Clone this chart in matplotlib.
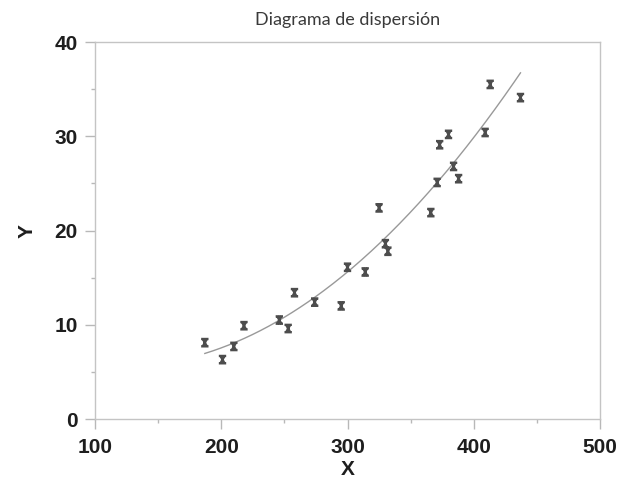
import numpy as np
import matplotlib
matplotlib.use("Agg")
import matplotlib.pyplot as plt
from matplotlib.path import Path
from matplotlib.ticker import MultipleLocator

# scatter data
x_vals = [187, 201, 210, 218, 246, 253, 258, 274, 295, 300, 314, 325,
          330, 332, 366, 371, 373, 380, 384, 388, 409, 413, 437]
y_vals = [8.1, 6.3, 7.7, 9.9, 10.5, 9.6, 13.4, 12.4, 12.0, 16.1, 15.6, 22.4,
          18.6, 17.8, 21.9, 25.1, 29.1, 30.2, 26.8, 25.5, 30.4, 35.5, 34.1]

title = "Diagrama de dispersión"
x_ticks = [100, 200, 300, 400, 500]
y_ticks = [0, 10, 20, 30, 40]

# hourglass-like "x" marker: bars on top and bottom plus diagonals
verts = [(-1, 1), (1, 1), (-0.55, 1), (0.55, -1), (0.55, 1), (-0.55, -1),
         (-1, -1), (1, -1)]
codes = [Path.MOVETO, Path.LINETO, Path.MOVETO, Path.LINETO, Path.MOVETO,
         Path.LINETO, Path.MOVETO, Path.LINETO]
xmark = Path(verts, codes)

fig = plt.figure(figsize=(6.32, 4.83), dpi=100)
ax = fig.add_axes([0.1503, 0.1325, 0.7991, 0.7805])

# quadratic fit through the points
coef = np.polyfit(x_vals, y_vals, 2)
xs = np.linspace(min(x_vals), max(x_vals), 200)
ax.plot(xs, np.polyval(coef, xs), color="#999999", lw=1.0)

ax.scatter(x_vals, y_vals, marker=xmark, s=28, facecolors="none",
           edgecolors="#4d4d4d", linewidths=1.7, zorder=3)

ax.set_xlim(100, 500)
ax.set_ylim(0, 40)
ax.set_xticks(x_ticks)
ax.set_yticks(y_ticks)
ax.xaxis.set_minor_locator(MultipleLocator(50))
ax.yaxis.set_minor_locator(MultipleLocator(5))

for s in ax.spines.values():
    s.set_color("#c4c4c4")
    s.set_linewidth(1.0)
ax.tick_params(which="major", length=7, width=1, color="#b8b8b8")
ax.tick_params(which="minor", length=3, width=1, color="#b8b8b8")
ax.tick_params(axis="x", which="major", pad=7)
ax.tick_params(axis="y", which="major", pad=5.5)
for lab in ax.get_xticklabels() + ax.get_yticklabels():
    lab.set_fontfamily("Liberation Sans")
    lab.set_fontweight("bold")
    lab.set_fontsize(15)
    lab.set_color("#1e1e1e")

ax.set_xlabel("X", fontfamily="Liberation Sans", fontweight="bold",
              fontsize=15, color="#1e1e1e", labelpad=2)
ax.set_ylabel("Y", fontfamily="Liberation Sans", fontweight="bold",
              fontsize=15, color="#1e1e1e", labelpad=13)
ax.set_title(title, fontfamily="Lato", fontsize=13, color="#3a3a3a",
             pad=12)

fig.savefig("out.png", dpi=100)
